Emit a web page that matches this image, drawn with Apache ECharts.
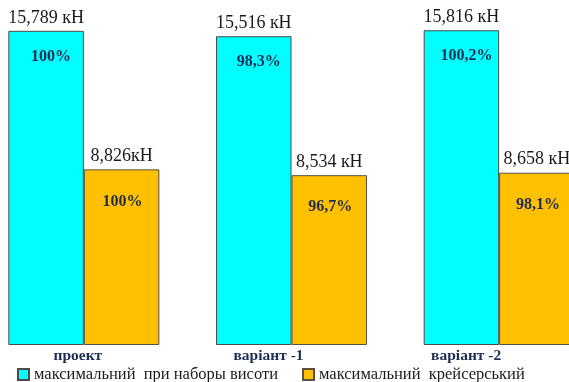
<!DOCTYPE html>
<html>
<head>
<meta charset="utf-8">
<script src="https://cdn.jsdelivr.net/npm/echarts@6/dist/echarts.min.js"></script>
<style>
  html, body { margin: 0; padding: 0; background: #ffffff; }
  #chart { width: 569px; height: 382px; }
</style>
</head>
<body>
<div id="chart"></div>
<script>
// Thrust comparison: project vs. two variants (kN)
const categories = ['проект', 'варіант -1', 'варіант -2'];
const seriesNames = ['максимальний  при наборы висоти', 'максимальний  крейсерський'];
const climbThrust = [15.789, 15.516, 15.816];
const cruiseThrust = [8.826, 8.534, 8.658];
const climbValueLabels = ['15,789 кН', '15,516 кН', '15,816 кН'];
const cruiseValueLabels = ['8,826кН', '8,534 кН', '8,658 кН'];
const climbPercent = ['100%', '98,3%', '100,2%'];
const cruisePercent = ['100%', '96,7%', '98,1%'];

// horizontal nudge of each category caption (px, negative = left)
const captionShift = [-6, -23, -33];

const serif = '"Liberation Serif", "Times New Roman", serif';
const navy = '#1f2d52';
const barW = 75.5;

const chart = echarts.init(document.getElementById('chart'), null, { renderer: 'canvas' });

const axisData = categories.map((c, i) => {
  const s = captionShift[i];
  return {
    value: c,
    textStyle: { padding: s < 0 ? [0, -2 * s, 0, 0] : [0, 0, 0, 2 * s] }
  };
});

function valueLabel(texts) {
  return {
    show: true,
    position: 'top',
    distance: 4,
    fontFamily: serif,
    fontSize: 18,
    color: '#1a1a1a',
    formatter: p => texts[p.dataIndex]
  };
}

function percentLabel(texts, dist, dx) {
  return {
    show: true,
    position: 'insideTop',
    distance: dist,
    offset: [dx, 0],
    fontFamily: serif,
    fontSize: 16,
    fontWeight: 'bold',
    color: navy,
    formatter: p => texts[p.dataIndex]
  };
}

chart.setOption({
  animation: false,
  backgroundColor: '#ffffff',
  grid: {
    left: -20, width: 623, top: -53, bottom: 37,
    containLabel: false,
    outerBoundsMode: 'none'
  },
  legend: {
    data: seriesNames,
    left: 17,
    top: 366,
    padding: 0,
    itemWidth: 11,
    itemHeight: 11,
    itemGap: 24,
    icon: 'rect',
    textStyle: { fontFamily: serif, fontSize: 16.5, color: '#1a1a1a' }
  },
  xAxis: [
    {
      type: 'category',
      data: axisData,
      axisLine: { show: false },
      axisTick: { show: false },
      splitLine: { show: false },
      axisLabel: {
        interval: 0,
        margin: 3,
        fontFamily: serif,
        fontSize: 15.5,
        fontWeight: 'bold',
        color: navy
      }
    },
    { type: 'category', data: categories, show: false }
  ],
  yAxis: {
    type: 'value',
    min: 0,
    max: 20,
    show: false,
    splitLine: { show: false }
  },
  series: [
    {
      name: seriesNames[0],
      type: 'bar',
      data: climbThrust,
      barWidth: barW,
      barGap: 0,
      itemStyle: { color: '#00ffff', borderColor: '#4a4a4a', borderWidth: 1 },
      label: valueLabel(climbValueLabels)
    },
    {
      name: seriesNames[1],
      type: 'bar',
      data: cruiseThrust,
      barWidth: barW,
      barGap: 0,
      itemStyle: { color: '#ffc000', borderColor: '#5a5040', borderWidth: 1 },
      label: valueLabel(cruiseValueLabels)
    },
    // transparent copies carrying the percentage captions inside each bar
    {
      name: 'climb-pct',
      type: 'bar',
      xAxisIndex: 1,
      data: climbThrust,
      barWidth: barW,
      barGap: 0,
      silent: true,
      itemStyle: { color: 'rgba(0,0,0,0)' },
      label: percentLabel(climbPercent, 18, 5)
    },
    {
      name: 'cruise-pct',
      type: 'bar',
      xAxisIndex: 1,
      data: cruiseThrust,
      barWidth: barW,
      barGap: 0,
      silent: true,
      itemStyle: { color: 'rgba(0,0,0,0)' },
      label: percentLabel(cruisePercent, 24, 1)
    }
  ]
});
</script>
</body>
</html>
